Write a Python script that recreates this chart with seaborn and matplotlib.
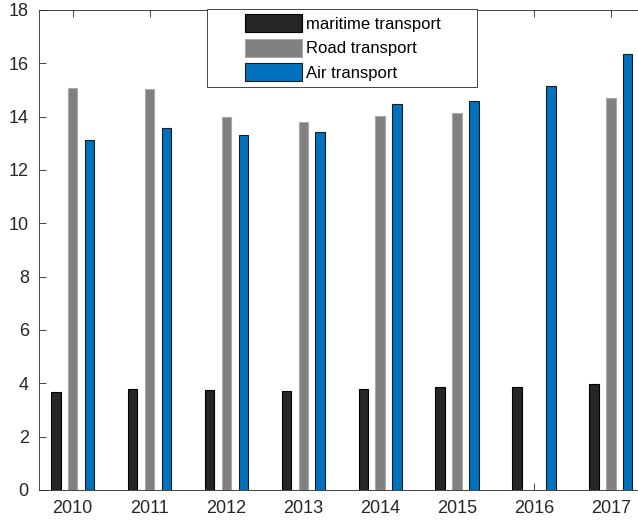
import numpy as np
import pandas as pd
import matplotlib
matplotlib.use("Agg")
import matplotlib.pyplot as plt
import matplotlib.patches as mpatches
from matplotlib.legend_handler import HandlerPatch
import seaborn as sns

# ---- data -------------------------------------------------------------
years = ["2010", "2011", "2012", "2013", "2014", "2015", "2016", "2017"]
series = ["maritime transport", "Road transport", "Air transport"]
maritime = [3.67, 3.79, 3.74, 3.72, 3.80, 3.85, 3.86, 3.97]
road = [15.06, 15.02, 13.99, 13.79, 14.01, 14.15, np.nan, 14.71]
air = [13.12, 13.56, 13.32, 13.41, 14.46, 14.60, 15.15, 16.34]
y_ticks = [0, 2, 4, 6, 8, 10, 12, 14, 16, 18]

colors = ["#262626", "#808080", "#0072BD"]
edges = ["#000000", "#a8a8a8", "#1a1a1a"]

df = pd.DataFrame({
    "year": years * 3,
    "mode": [series[0]] * 8 + [series[1]] * 8 + [series[2]] * 8,
    "value": maritime + road + air,
})

sns.set_style("ticks")
plt.rcParams["font.family"] = ["Liberation Sans", "DejaVu Sans"]

W, H = 638, 524
fig = plt.figure(figsize=(W / 100, H / 100), dpi=100)
ax = fig.add_axes([38.5 / W, (H - 490) / H, (645 - 38.5) / W, 480 / H])

sns.barplot(data=df, x="year", y="value", hue="mode", hue_order=series,
            order=years, palette=colors, width=0.66, gap=0.436,
            errorbar=None, legend=False, saturation=1, ax=ax)

for cont, ec in zip(ax.containers, edges):
    for bar in cont:
        bar.set_edgecolor(ec)
        bar.set_linewidth(0.8)

ax.set_xlim(-0.445, 7.445)
ax.set_ylim(0, 18)
ax.set_yticks(y_ticks)
ax.set_xlabel("")
ax.set_ylabel("")

axis_col = "#262626"
for side in ["left", "bottom", "top", "right"]:
    ax.spines[side].set_visible(True)
    ax.spines[side].set_color(axis_col)
    ax.spines[side].set_linewidth(0.6)
ax.tick_params(axis="both", direction="in", length=5, width=0.6,
               color=axis_col, labelcolor=axis_col, labelsize=13)
ax.tick_params(axis="x", top=True, pad=7)
ax.tick_params(axis="y", right=False, pad=7)


# legend swatches sit flush against the labels, with blank room on the left
def swatch(legend, orig_handle, xdescent, ydescent, width, height, fontsize):
    w = 57 * 72 / 100
    h = 18 * 72 / 100
    y0 = -ydescent + (height - h) / 2
    return mpatches.Rectangle((width - w - xdescent, y0), w, h)


handles = [mpatches.Patch(facecolor=c, edgecolor=e, linewidth=0.8, label=s)
           for c, e, s in zip(colors, edges, series)]
leg = ax.legend(handles=handles, loc="upper left",
                bbox_to_anchor=(207 / W, (H - 87) / H, 270 / W, 78 / H),
                bbox_transform=fig.transFigure, mode="expand",
                borderaxespad=0, borderpad=0.38, fontsize=12,
                handlelength=5.34, handleheight=1.1, handletextpad=0.24,
                labelspacing=0.46, fancybox=False, framealpha=1,
                handler_map={mpatches.Patch: HandlerPatch(patch_func=swatch)})
leg.get_frame().set_edgecolor(axis_col)
leg.get_frame().set_linewidth(0.6)
for t in leg.get_texts():
    t.set_color("#000000")

fig.savefig("out.png", dpi=100)
